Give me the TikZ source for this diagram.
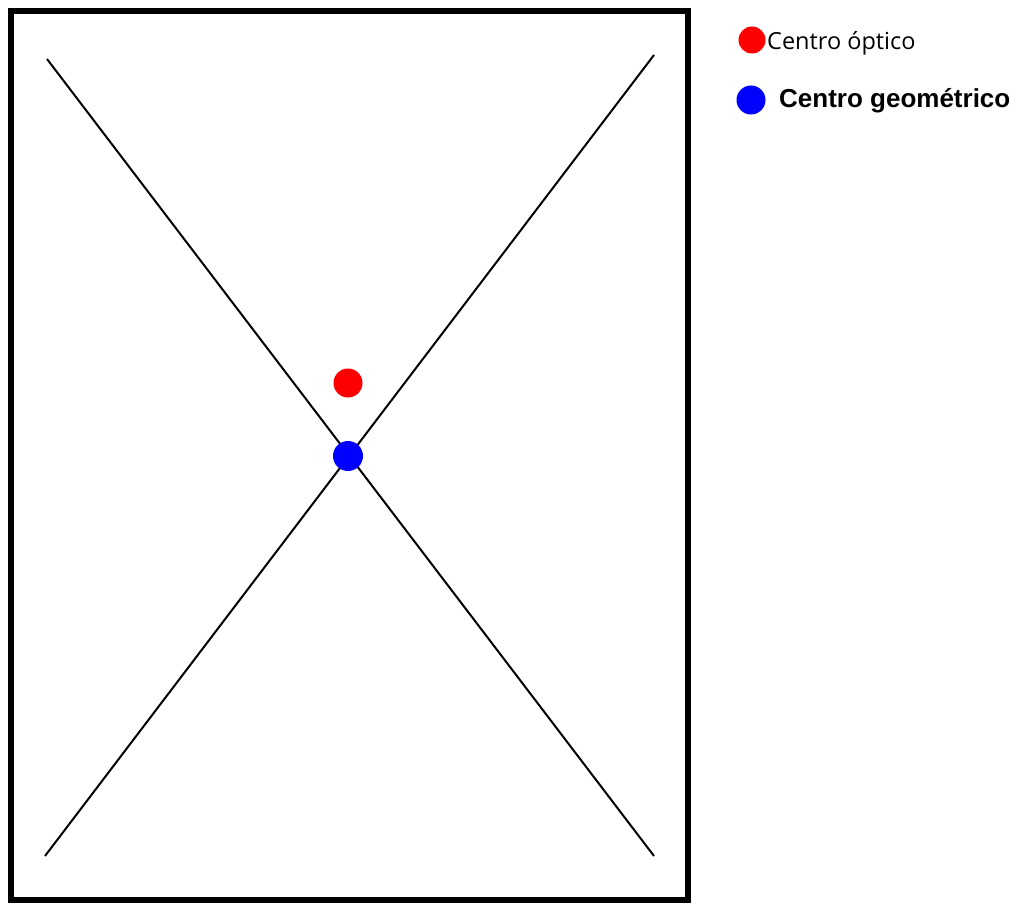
\documentclass[tikz,border=0pt]{standalone}
\usepackage{fontspec}
\setmainfont{Open Sans}
\newfontfamily\boldsans{Liberation Sans}
\begin{document}
\begin{tikzpicture}[x=1pt,y=-1pt,
  frame/.style={draw=black,line width=6pt},
  axis/.style={draw=black,line width=2pt},
  dot/.style={circle,inner sep=0pt,minimum size=#1},
  lbl/.style={anchor=west,inner sep=0pt}]
\useasboundingbox (0,0) rectangle (1018,904);
\draw[frame] (11,11) rectangle (687.5,900);
\coordinate (a1) at (47,59);
\coordinate (a2) at (654,856);
\coordinate (b1) at (654,55);
\coordinate (b2) at (45,856);
\draw[axis] (a1) -- (a2);
\draw[axis] (b1) -- (b2);
\node[dot=29pt,fill=red] (optico) at (348,383) {};
\node[dot=30pt,fill=blue] (geom) at (348,456) {};
\node[dot=27pt,fill=red] (legR) at (752,40) {};
\node[lbl,font=\fontsize{23.5}{28}\selectfont] (tR) at (767,43.5) {Centro óptico};
\node[lbl,font=\boldsans\bfseries\fontsize{26}{30}\selectfont] (tB) at (779,101) {Centro geométrico};
\node[dot=29pt,fill=blue] (legB) at (751,100) {};
\end{tikzpicture}
\end{document}
